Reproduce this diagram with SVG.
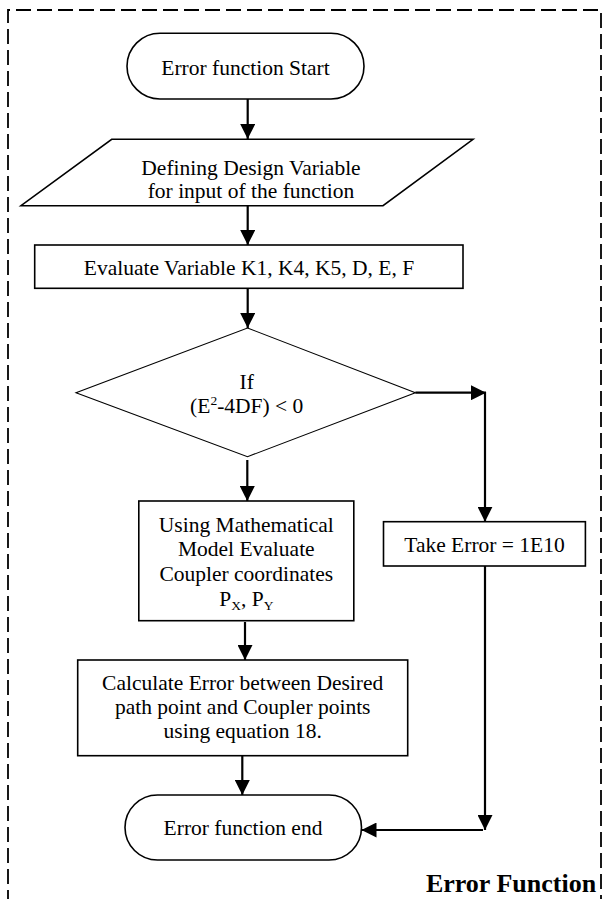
<svg xmlns="http://www.w3.org/2000/svg" width="604" height="899" viewBox="0 0 604 899">
<style>
.shape{fill:#fff;stroke:#000;stroke-width:1.6}
.thin{fill:#fff;stroke:#000;stroke-width:1.1}
.lbl{font-family:"Liberation Serif","Times New Roman",serif;font-size:21.5px;fill:#000;text-anchor:middle}
.conn{fill:none;stroke:#000;stroke-width:2.2}
.frame{fill:none;stroke:#000;stroke-width:1.8;stroke-dasharray:15 6}
.title{font-family:"Liberation Serif","Times New Roman",serif;font-size:26px;font-weight:bold;fill:#000;text-anchor:middle}
</style>
<defs>
<marker id="ah" viewBox="0 0 15 15" refX="15" refY="7.5" markerWidth="15" markerHeight="15" orient="auto" markerUnits="userSpaceOnUse">
<path d="M0,0 L15,7.5 L0,15 z" fill="#000"/>
</marker>
</defs>
<rect width="604" height="899" fill="#fff"/>
<path class="frame" d="M8,905 L8,10 L601,10 L601,905"/>
<g id="connectors">
<line class="conn" x1="247.7" y1="99" x2="247.7" y2="139" marker-end="url(#ah)"/>
<line class="conn" x1="247.7" y1="206" x2="247.7" y2="245" marker-end="url(#ah)"/>
<line class="conn" x1="247.7" y1="288.5" x2="247.7" y2="328" marker-end="url(#ah)"/>
<line class="conn" x1="415.4" y1="392.7" x2="486" y2="392.7" marker-end="url(#ah)"/>
<line class="conn" x1="485" y1="392" x2="485" y2="521.7" marker-end="url(#ah)"/>
<line class="conn" x1="247.3" y1="460" x2="247.3" y2="501" marker-end="url(#ah)"/>
<line class="conn" x1="245" y1="622" x2="245" y2="660" marker-end="url(#ah)"/>
<line class="conn" x1="242.3" y1="756" x2="242.3" y2="795" marker-end="url(#ah)"/>
<line class="conn" x1="485" y1="566" x2="485" y2="830" marker-end="url(#ah)"/>
<line class="conn" x1="483" y1="830" x2="361.5" y2="830" marker-end="url(#ah)"/>
</g>
<g id="start">
<rect class="shape" x="127" y="33.3" width="237" height="65.7" rx="33" ry="33"/>
<text class="lbl" x="245.5" y="75">Error function Start</text>
</g>
<g id="input">
<polygon class="shape" points="111.7,139.3 473,139.3 383,205.7 21,205.7"/>
<text class="lbl" x="251" y="175">Defining Design Variable</text>
<text class="lbl" x="251" y="197.5">for input of the function</text>
</g>
<g id="evaluate">
<rect class="shape" x="34.7" y="245" width="428.3" height="43.3"/>
<text class="lbl" x="249" y="275">Evaluate Variable K1, K4, K5, D, E, F</text>
</g>
<g id="decision">
<polygon class="thin" points="247.5,328 415.4,392.7 247.5,456.7 76,392.7"/>
<text class="lbl" x="246.7" y="389">If</text>
<text class="lbl" x="246.7" y="413">(E<tspan dy="-8" font-size="13.5">2</tspan><tspan dy="8">-4DF) &lt; 0</tspan></text>
</g>
<g id="model">
<rect class="shape" x="138.8" y="501" width="215" height="119.7"/>
<text class="lbl" x="246.3" y="532">Using Mathematical</text>
<text class="lbl" x="246.3" y="556">Model Evaluate</text>
<text class="lbl" x="246.3" y="580.5">Coupler coordinates</text>
<text class="lbl" x="246.3" y="606">P<tspan dy="4" font-size="13.5">X</tspan><tspan dy="-4">, P</tspan><tspan dy="4" font-size="13.5">Y</tspan></text>
</g>
<g id="take-error">
<rect class="shape" x="383.5" y="521.7" width="201.9" height="44.3"/>
<text class="lbl" x="484.5" y="551.5">Take Error = 1E10</text>
</g>
<g id="calculate">
<rect class="shape" x="77.7" y="660" width="330" height="95.7"/>
<text class="lbl" x="242.7" y="690">Calculate Error between Desired</text>
<text class="lbl" x="242.7" y="713.5">path point and Coupler points</text>
<text class="lbl" x="242.7" y="737.5">using equation 18.</text>
</g>
<g id="end">
<rect class="shape" x="125" y="795" width="236.5" height="65" rx="32.5" ry="32.5"/>
<text class="lbl" x="243" y="835">Error function end</text>
</g>
<text class="title" x="511" y="892">Error Function</text>
</svg>
